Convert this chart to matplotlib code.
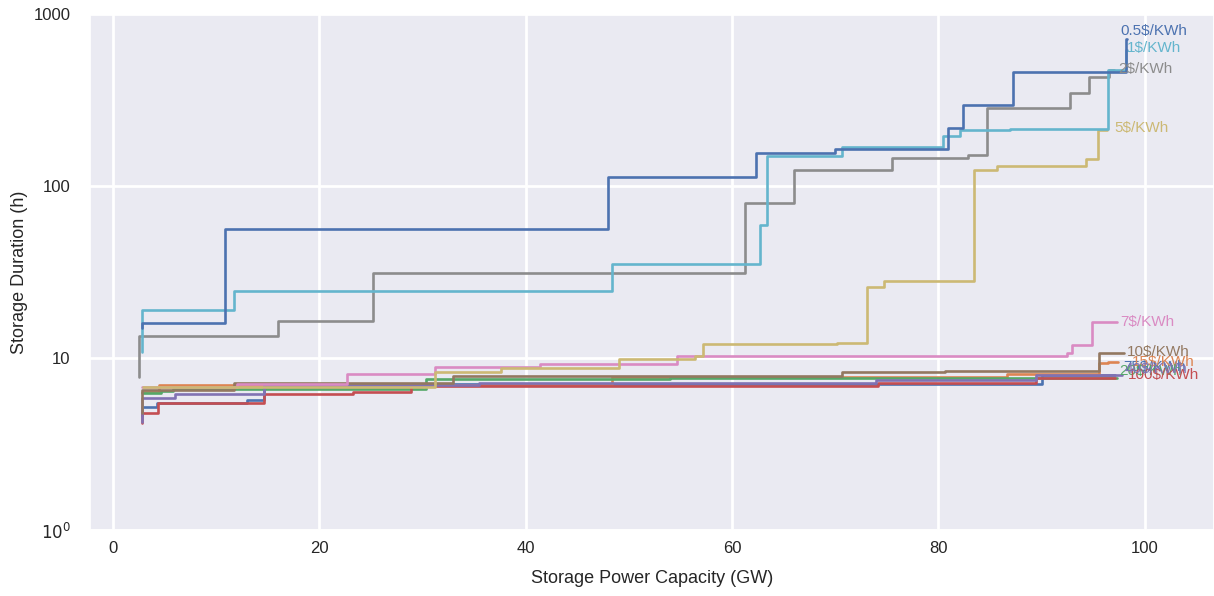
import numpy as np
import matplotlib
matplotlib.use("Agg")
import matplotlib.pyplot as plt
import seaborn as sns

sns.set_theme(style="darkgrid")
plt.rcParams['font.family'] = ['Liberation Sans', 'DejaVu Sans']

# step curves: x = power capacity (GW) where each level starts, y = duration (h)
x_75 = [2.8, 2.85, 4.3, 13.0, 14.7, 30.0, 90.0, 97.1]
y_75 = [4.6, 5.19, 5.5, 5.7, 6.8, 7.1, 7.95, 7.95]
x_15 = [2.8, 4.5, 48.4, 86.6, 95.6, 96.4, 97.4]
y_15 = [6.35, 7.0, 7.75, 8.07, 9.35, 9.5, 9.5]
x_20 = [2.8, 4.7, 5.8, 30.4, 54.0, 97.3]
y_20 = [6.26, 6.4, 6.6, 7.55, 7.7, 7.7]
x_100 = [2.8, 2.8, 4.4, 14.7, 23.3, 28.9, 74.1, 89.5, 97.1]
y_100 = [4.19, 4.8, 5.48, 6.17, 6.35, 6.87, 7.16, 7.65, 7.65]
x_40 = [2.8, 2.8, 6.0, 14.7, 35.5, 74.0, 89.5, 97.8]
y_40 = [4.24, 5.85, 6.2, 6.97, 7.16, 7.45, 7.95, 7.95]
x_10 = [2.8, 2.8, 11.8, 33.0, 70.7, 80.6, 95.6, 98.0]
y_10 = [4.8, 6.5, 7.16, 7.86, 8.3, 8.4, 10.7, 10.7]
x_7 = [2.8, 12.0, 22.7, 31.2, 41.4, 54.7, 92.5, 92.9, 94.9, 97.3]
y_7 = [6.78, 7.06, 8.07, 8.87, 9.22, 10.3, 10.7, 11.9, 16.2, 16.2]
x_2 = [2.5, 2.5, 16.0, 25.2, 61.3, 66.0, 75.5, 82.9, 84.7, 92.7, 94.6, 96.5, 97.0]
y_2 = [7.8, 13.4, 16.4, 31.2, 79.6, 124, 145.6, 151, 284, 347, 430, 475, 475]
x_5 = [2.9, 31.2, 37.6, 49.1, 56.4, 57.2, 70.2, 73.1, 74.7, 83.4, 85.7, 94.3, 95.5, 96.3]
y_5 = [6.8, 8.3, 8.7, 9.9, 10.3, 12.1, 12.2, 25.9, 28.0, 124, 131, 143, 212, 212]
x_1 = [2.8, 2.8, 11.8, 48.4, 62.7, 63.4, 70.7, 80.4, 82.1, 86.9, 96.4, 98.2, 98.3]
y_1 = [10.8, 19.0, 24.5, 35.2, 59.3, 149, 169, 196, 212, 215, 470, 620, 620]
x_05 = [2.8, 2.8, 10.85, 48.0, 62.3, 70.0, 80.9, 82.4, 87.2, 98.2, 98.3]
y_05 = [15.0, 16.0, 56, 113, 155, 164, 217, 296, 460, 720, 720]

series = [(x_75, y_75), (x_15, y_15), (x_20, y_20), (x_100, y_100), (x_40, y_40),
          (x_10, y_10), (x_7, y_7), (x_2, y_2), (x_5, y_5), (x_1, y_1), (x_05, y_05)]
labels = ["75$/KWh", "15$/KWh", "20$/KWh", "100$/KWh", "40$/KWh", "10$/KWh",
          "7$/KWh", "2$/KWh", "5$/KWh", "1$/KWh", "0.5$/KWh"]
label_x = [97.9, 98.7, 97.5, 98.4, 98.0, 98.3, 97.6, 97.4, 97.0, 98.3, 97.6]
label_y = [8.9, 9.5, 8.4, 7.95, 8.6, 10.8, 16.2, 478, 217, 633, 796]

colors = sns.color_palette("deep", 10)
colors = colors + [colors[0]]

fig = plt.figure(figsize=(12.14, 5.96), dpi=100)
ax = fig.add_axes([90/1214, 66/596, 1124/1214, 516/596])

for (xs, ys), c in zip(series, colors):
    ax.step(xs, ys, where="post", color=c, lw=1.9)

for lx, ly, t, c in zip(label_x, label_y, labels, colors):
    ax.text(lx, ly, t, color=c, fontsize=11, va="center", ha="left")

ax.set_yscale("log")
ax.set_ylim(1, 1000)
ax.set_xlim(-2.2, 106.7)
ax.set_yticks([1, 10, 100, 1000])
ax.set_yticklabels(["$10^0$", "10", "100", "1000"])
ax.minorticks_off()
ax.set_xticks([0, 20, 40, 60, 80, 100])
ax.grid(True, color="white", lw=2)
ax.tick_params(axis="both", labelsize=12)
ax.tick_params(axis="x", pad=2)
ax.tick_params(axis="y", pad=8)
ax.set_xlabel("Storage Power Capacity (GW)", fontsize=13, labelpad=10)
ax.set_ylabel("Storage Duration (h)", fontsize=13)

fig.savefig("out.png", dpi=100)
